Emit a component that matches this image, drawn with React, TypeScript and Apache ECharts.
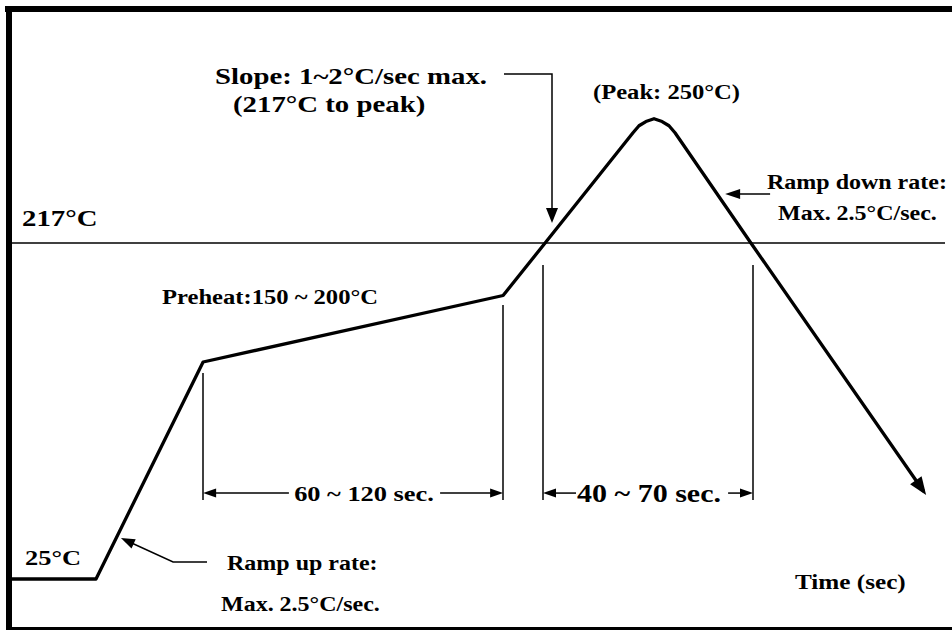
import React, { useEffect, useRef } from "react";
import * as echarts from "echarts";

// ---- data (time in s, temperature in °C, diagram units) ----
const profileTime = [0, 28, 63.7, 163.7, 177.7, 207, 209, 211.3, 214, 216.7, 219, 221, 246.3, 303.9];
const profileTemp = [25, 25, 149, 187, 217, 280, 284, 286.4, 288, 286.4, 284, 280, 217, 75];
const liquidusTemp = 217;
const phaseMarkTimes = [63.7, 163.7, 177, 247];
const phaseMarkTops = [142.7, 181.6, 204.4, 204.4];
const phaseMarkBottom = 70.1;
const dimLevel = 74.1;
const dimArrowFrom = [92.3, 142.7, 188, 238.7];
const dimArrowTo = [63.7, 163.7, 177, 247];
const slopeLeader = [[164, 313.6], [180, 313.6], [180, 228.4]];
const rampDownLeader = [[252.7, 245], [237.7, 245]];
const rampUpLeader = [[65, 34.7], [53.7, 34.7], [36.3, 48.4]];

// ---- label texts ----
const labelTexts = [
  "Slope: 1~2°C/sec max.",
  "(217°C to peak)",
  "(Peak: 250°C)",
  "Ramp down rate:",
  "Max. 2.5°C/sec.",
  "217°C",
  "Preheat:150 ~ 200°C",
  "60 ~ 120 sec.",
  "40 ~ 70 sec.",
  "25°C",
  "Ramp up rate:",
  "Max. 2.5°C/sec.",
  "Time (sec)",
];
// layout of labels: [x, y, fontSize, align]
const labelLayout: [number, number, number, string][] = [
  [215, 76, 24, "left"],
  [233, 104, 24, "left"],
  [593, 92, 20.5, "left"],
  [767, 182, 20, "left"],
  [778, 213, 20, "left"],
  [22, 218, 24, "left"],
  [162, 297, 20.5, "left"],
  [364, 493, 22, "center"],
  [649, 493, 25, "center"],
  [25, 557, 22, "left"],
  [227, 563, 20, "left"],
  [221, 604, 20, "left"],
  [795, 582, 21, "left"],
];

const FONT = '"Liberation Serif", "Times New Roman", serif';

export default function App() {
  const ref = useRef<HTMLDivElement>(null);
  useEffect(() => {
    const chart = echarts.init(ref.current!, null, { renderer: "svg" });
    chart.setOption({
      animation: false,
      backgroundColor: "#ffffff",
      grid: { left: 12, top: 62.75, width: 933, height: 560 },
      xAxis: { type: "value", min: 0, max: 311, show: false },
      yAxis: { type: "value", min: 0, max: 320, show: false },
      series: [
        {
          type: "line",
          data: profileTime.map((t, i) => [t, profileTemp[i]]),
          symbol: "none",
          silent: true,
          z: 5,
          lineStyle: { color: "#000", width: 3.3, join: "round" },
          markLine: {
            silent: true,
            symbol: ["none", "none"],
            label: { show: false },
            emphasis: { disabled: true },
            lineStyle: { color: "#000", width: 1.5, type: "solid" },
            data: [
              { yAxis: liquidusTemp, lineStyle: { color: "#000", width: 1.6, type: "solid" } },
              ...phaseMarkTimes.map((t, i) => [
                { coord: [t, phaseMarkTops[i]] },
                { coord: [t, phaseMarkBottom] },
              ]),
            ],
          },
        },
      ],
    });

    const px = (p: number[]) => chart.convertToPixel({ gridIndex: 0 }, p) as number[];

    const arrow = (ptsData: number[][], L: number, W: number, lw: number) => {
      const pts = ptsData.map(px);
      const n = pts.length;
      const tip = pts[n - 1];
      const prev = pts[n - 2];
      const dx = tip[0] - prev[0];
      const dy = tip[1] - prev[1];
      const len = Math.hypot(dx, dy);
      const ux = dx / len;
      const uy = dy / len;
      const bx = tip[0] - ux * L;
      const by = tip[1] - uy * L;
      const nx = -uy;
      const ny = ux;
      return [
        {
          type: "polyline",
          silent: true,
          shape: { points: [...pts.slice(0, n - 1), [tip[0] - ux * L * 0.5, tip[1] - uy * L * 0.5]] },
          style: { stroke: "#000", lineWidth: lw, fill: null },
        },
        {
          type: "polygon",
          silent: true,
          shape: {
            points: [
              tip,
              [bx + (nx * W) / 2, by + (ny * W) / 2],
              [bx - (nx * W) / 2, by - (ny * W) / 2],
            ],
          },
          style: { fill: "#000" },
        },
      ];
    };

    // arrowhead at the end of the profile line
    const nP = profileTime.length;
    const endP = px([profileTime[nP - 1], profileTemp[nP - 1]]);
    const prevP = px([profileTime[nP - 2], profileTemp[nP - 2]]);
    const eLen = Math.hypot(endP[0] - prevP[0], endP[1] - prevP[1]);
    const eux = (endP[0] - prevP[0]) / eLen;
    const euy = (endP[1] - prevP[1]) / eLen;
    const HL = 18, HW = 14;
    const ext = (3.3 * HL) / HW;
    const tipP = [endP[0] + eux * ext, endP[1] + euy * ext];
    const bP = [tipP[0] - eux * HL, tipP[1] - euy * HL];
    const profileHead = {
      type: "polygon",
      silent: true,
      z: 10,
      shape: {
        points: [
          tipP,
          [bP[0] - (euy * HW) / 2, bP[1] + (eux * HW) / 2],
          [bP[0] + (euy * HW) / 2, bP[1] - (eux * HW) / 2],
        ],
      },
      style: { fill: "#000" },
    };

    const texts = labelTexts.map((text, i) => {
      const [x, y, size, align] = labelLayout[i];
      return {
        type: "text",
        silent: true,
        x,
        y,
        scaleX: 1.2,
        style: {
          text,
          fontSize: size,
          fontFamily: FONT,
          fontWeight: "bold",
          fill: "#000",
          align,
          verticalAlign: "middle",
        },
      };
    });

    const frame = [
      { type: "rect", silent: true, shape: { x: 5, y: 6, width: 947, height: 6 }, style: { fill: "#000" } },
      { type: "rect", silent: true, shape: { x: 6, y: 6, width: 6, height: 624 }, style: { fill: "#000" } },
      { type: "rect", silent: true, shape: { x: 6, y: 627, width: 946, height: 3 }, style: { fill: "#000" } },
    ];

    const dims = dimArrowFrom.flatMap((t, i) =>
      arrow([[t, dimLevel], [dimArrowTo[i], dimLevel]], 13, 9, 1.5)
    );

    chart.setOption({
      graphic: [
        ...frame,
        ...texts,
        ...arrow(slopeLeader, 15, 12, 1.5),
        ...arrow(rampDownLeader, 15, 10, 1.5),
        ...arrow(rampUpLeader, 14, 10, 1.5),
        ...dims,
        profileHead,
      ],
    });

    return () => chart.dispose();
  }, []);
  return (
    <div
      ref={ref}
      style={{ position: "fixed", left: 0, top: 0, width: 952, height: 631 }}
    />
  );
}
